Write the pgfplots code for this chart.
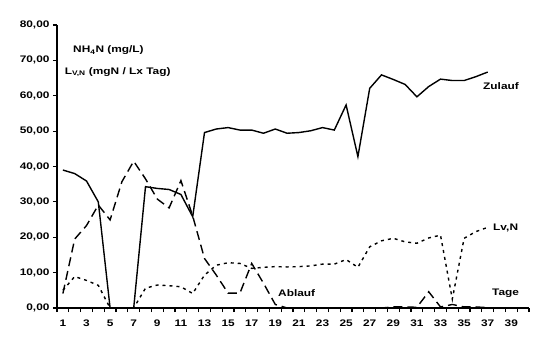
\documentclass[border=0pt]{standalone}
\usepackage{fontspec}
\setmainfont{Liberation Sans}[FakeStretch=1.25]
\usepackage{pgfplots}
\pgfplotsset{compat=1.18}
\begin{document}
\begin{tikzpicture}[x=1bp,y=1bp]
\path[use as bounding box] (-57,-47) rectangle (489,308);
\begin{axis}[
  at={(0,0)}, anchor=south west,
  scale only axis, width=472bp, height=283bp,
  xmin=0.5, xmax=40.5, ymin=0, ymax=80,
  axis x line=bottom, axis y line=left,
  axis line style={line width=1.5bp, -},
  tick align=outside,
  xtick={1,3,...,39},
  minor xtick={0.5,1.5,...,40.5},
  major x tick style={draw=none},
  minor x tick style={line width=1.2bp, black},
  minor tick length=4bp,
  major tick length=4bp,
  ytick={0,10,...,80},
  major y tick style={line width=1.2bp, black},
  font=\fontsize{9.5bp}{11bp}\selectfont\bfseries,
  xticklabel style={font=\fontsize{9.5bp}{11bp}\selectfont\bfseries, yshift=-4bp, /pgf/number format/assume math mode=true},
  yticklabel style={font=\fontsize{9.5bp}{11bp}\selectfont\bfseries,
     /pgf/number format/.cd, fixed, fixed zerofill, precision=2, use comma, assume math mode=true},
  clip=false,
]
% Zulauf
\addplot[black, line width=1.4bp] coordinates {
(1,39.0)(2,38.0)(3,35.9)(4,30.0)(5,0)(6,0)(7,0)(8,34.3)(9,33.8)(10,33.5)
(11,32.1)(12,25.8)(13,49.6)(14,50.6)(15,51.0)(16,50.3)(17,50.3)(18,49.4)(19,50.6)(20,49.4)
(21,49.6)(22,50.1)(23,51.0)(24,50.3)(25,57.4)(26,42.8)(27,62.1)(28,65.9)(29,64.6)(30,63.2)
(31,59.7)(32,62.6)(33,64.7)(34,64.3)(35,64.3)(36,65.4)(37,66.7)
};
% Ablauf
\addplot[black, line width=1.4bp, dash pattern=on 9bp off 5bp] coordinates {
(1,4.1)(2,19.5)(3,23.3)(4,29.1)(5,24.9)(6,35.7)(7,41.5)(8,36.5)(9,30.8)(10,28.3)
(11,36.0)(12,26.0)(13,14.0)(14,9.3)(15,4.2)(16,4.2)(17,12.6)(18,7.0)(19,1.0)(20,0)
(21,0)(22,0)(23,0)(24,0)(25,0)(26,0)(27,0)(28,0)(29,0.3)(30,0.3)
(31,0.2)(32,4.6)(33,0.3)(34,1.0)(35,0.3)(36,0.3)(37,0.1)
};
% Lv,N
\addplot[black, line width=1.4bp, dash pattern=on 3bp off 4bp] coordinates {
(1,5.0)(2,8.9)(3,7.8)(4,6.4)(5,0)(6,0)(7,0)(8,5.6)(9,6.5)(10,6.3)
(11,6.0)(12,4.1)(13,9.3)(14,12.1)(15,12.8)(16,12.6)(17,11.2)(18,11.5)(19,11.7)(20,11.6)
(21,11.7)(22,11.9)(23,12.4)(24,12.4)(25,13.7)(26,11.5)(27,17.3)(28,19.0)(29,19.7)(30,18.7)
(31,18.3)(32,19.8)(33,20.6)(34,2.5)(35,19.7)(36,21.6)(37,22.8)
};
\node[anchor=west, inner sep=0] at (axis cs:36.6,62.75) {Zulauf};
\node[anchor=west, inner sep=0] at (axis cs:37.45,22.6) {Lv,N};
\node[anchor=west, inner sep=0] at (axis cs:19.23,4.24) {Ablauf};
\node[anchor=west, inner sep=0] at (axis cs:37.36,4.24) {Tage};
\node[anchor=west, inner sep=0] at (axis cs:1.86,72.9) {NH\textsubscript{4}N (mg/L)};
\node[anchor=west, inner sep=0] at (axis cs:1.14,66.7) {L\textsubscript{V,N} (mgN / Lx Tag)};
\end{axis}
\end{tikzpicture}
\end{document}
